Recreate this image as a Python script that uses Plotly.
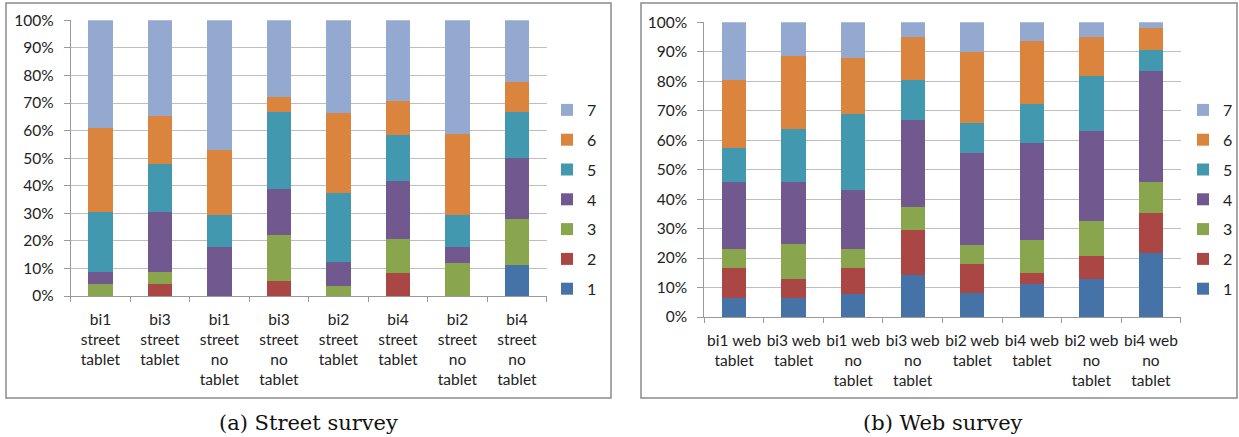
import plotly.graph_objects as go

W, H = 1239, 437

levels = ["1", "2", "3", "4", "5", "6", "7"]
colors = ["#4572A7", "#AA4643", "#89A54E", "#71588F", "#4198AF", "#DB843D", "#93A9CF"]

street_cats = ["bi1<br>street<br>tablet", "bi3<br>street<br>tablet", "bi1<br>street<br>no<br>tablet",
               "bi3<br>street<br>no<br>tablet", "bi2<br>street<br>tablet", "bi4<br>street<br>tablet",
               "bi2<br>street<br>no<br>tablet", "bi4<br>street<br>no<br>tablet"]
web_cats = ["bi1 web<br>tablet", "bi3 web<br>tablet", "bi1 web<br>no<br>tablet", "bi3 web<br>no<br>tablet",
            "bi2 web<br>tablet", "bi4 web<br>tablet", "bi2 web<br>no<br>tablet", "bi4 web<br>no<br>tablet"]

# percent share of each answer level (1..7) per category
street_1 = [0, 0, 0, 0, 0, 0, 0, 11.1]
street_2 = [0, 4.3, 0, 5.6, 0, 8.3, 0, 0]
street_3 = [4.3, 4.4, 0, 16.6, 3.8, 12.5, 11.8, 16.7]
street_4 = [4.4, 21.7, 17.6, 16.7, 8.4, 20.9, 5.8, 22.2]
street_5 = [21.7, 17.4, 11.8, 27.8, 25.0, 16.6, 11.8, 16.7]
street_6 = [30.5, 17.4, 23.5, 5.5, 29.2, 12.5, 29.4, 11.1]
street_7 = [39.1, 34.8, 47.1, 27.8, 33.6, 29.2, 41.2, 22.2]

web_1 = [6.6, 6.6, 7.9, 14.3, 8.1, 11.3, 13.0, 21.6]
web_2 = [9.9, 6.3, 8.6, 15.2, 10.0, 3.6, 7.8, 13.6]
web_3 = [6.5, 11.8, 6.5, 7.8, 6.4, 11.3, 11.7, 10.7]
web_4 = [22.9, 21.2, 20.2, 29.5, 31.1, 32.8, 30.7, 37.7]
web_5 = [11.6, 17.9, 25.8, 13.7, 10.1, 13.3, 18.7, 7.0]
web_6 = [22.9, 24.7, 18.9, 14.4, 24.3, 21.4, 13.1, 7.4]
web_7 = [19.6, 11.5, 12.1, 5.1, 10.0, 6.3, 5.0, 2.0]

street = [street_1, street_2, street_3, street_4, street_5, street_6, street_7]
web = [web_1, web_2, web_3, web_4, web_5, web_6, web_7]

captions = ["(a) Street survey", "(b) Web survey"]

fig = go.Figure()
for i, lvl in enumerate(levels):
    fig.add_trace(go.Bar(x=street_cats, y=street[i], name=lvl, marker=dict(color=colors[i], line_width=0),
                         xaxis="x", yaxis="y", legend="legend", legendgroup="s" + lvl,
                         legendrank=100 - i))
for i, lvl in enumerate(levels):
    fig.add_trace(go.Bar(x=web_cats, y=web[i], name=lvl, marker=dict(color=colors[i], line_width=0),
                         xaxis="x2", yaxis="y2", legend="legend2", legendgroup="w" + lvl,
                         legendrank=100 - i))

def px(x):
    return x / W

def py(y):
    return 1 - y / H

tickfont = dict(family="Lato, 'Open Sans', sans-serif", size=15.5, color="#222222")
grid = "#BEBEBE"
axcol = "#9A9A9A"

xcommon = dict(type="category", showline=True, linecolor=axcol, linewidth=1, ticks="outside",
               tickson="boundaries", ticklen=5, tickcolor=axcol, tickfont=tickfont, showgrid=False,
               tickangle=0, fixedrange=True, automargin=False, ticklabelstandoff=9)
ycommon = dict(range=[0, 100], dtick=10, ticksuffix="%", showline=True, linecolor=axcol, linewidth=1,
               ticks="outside", ticklen=6, tickcolor=axcol, showgrid=True, gridcolor=grid, gridwidth=1,
               tickfont=tickfont, zeroline=False, fixedrange=True, automargin=False,
               ticklabelstandoff=7)

legcommon = dict(font=dict(family="Lato, 'Open Sans', sans-serif", size=16, color="#222222"),
                 traceorder="grouped", tracegroupgap=6, bgcolor="rgba(0,0,0,0)",
                 xanchor="left", yanchor="top", itemclick=False, itemdoubleclick=False)

fig.update_layout(
    width=W, height=H, margin=dict(l=0, r=0, t=0, b=0, autoexpand=False),
    paper_bgcolor="white", plot_bgcolor="white",
    barmode="stack", bargap=0.59,
    xaxis=dict(domain=[px(70.7), px(546.7)], anchor="y", **xcommon),
    yaxis=dict(domain=[py(296), py(20.3)], anchor="x", **ycommon),
    xaxis2=dict(domain=[px(704.3), px(1180.7)], anchor="y2", **xcommon),
    yaxis2=dict(domain=[py(317), py(22.3)], anchor="x2", **ycommon),
    legend=dict(x=px(547), y=py(93), **legcommon),
    legend2=dict(x=px(1183), y=py(93), **legcommon),
    showlegend=True,
    shapes=[
        dict(type="rect", xref="paper", yref="paper", x0=px(6), x1=px(611), y0=py(398), y1=py(3),
             line=dict(color="#8A8A8A", width=1.5), fillcolor="rgba(0,0,0,0)", layer="below"),
        dict(type="rect", xref="paper", yref="paper", x0=px(641), x1=px(1237), y0=py(398), y1=py(3),
             line=dict(color="#8A8A8A", width=1.5), fillcolor="rgba(0,0,0,0)", layer="below"),
    ],
    annotations=[
        dict(text=captions[0], xref="paper", yref="paper", x=px(308), y=py(423), showarrow=False,
             xanchor="center", yanchor="middle",
             font=dict(family="'DejaVu Serif', 'Liberation Serif', serif", size=21, color="#111111")),
        dict(text=captions[1], xref="paper", yref="paper", x=px(943), y=py(423), showarrow=False,
             xanchor="center", yanchor="middle",
             font=dict(family="'DejaVu Serif', 'Liberation Serif', serif", size=21, color="#111111")),
    ],
)

fig.write_html("out.html")
